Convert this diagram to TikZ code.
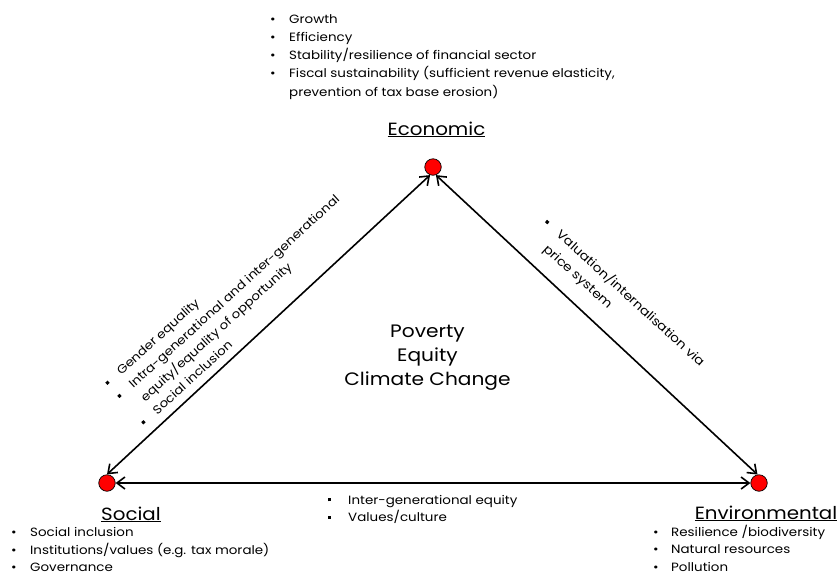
\documentclass[tikz,border=0pt]{standalone}
\usepackage{fontspec}
\setmainfont{Poppins}[FakeStretch=1.12]
\usetikzlibrary{arrows.meta}
\newcommand{\rb}[1]{\makebox[#1][l]{\textbullet}}
\newcommand{\sqb}[1]{\makebox[#1][l]{\raisebox{0.22em}{\rule{0.26em}{0.26em}}}}
\tikzset{
  dot/.style={circle, draw=black, fill=red, minimum size=16.5pt, inner sep=0pt, line width=0.7pt},
  link/.style={line width=1.6pt, {Straight Barb[length=8pt,width=12pt]}-{Straight Barb[length=8pt,width=12pt]}},
  head/.style={font=\fontsize{17.7}{20}\selectfont, inner sep=0pt},
  mid/.style={font=\fontsize{18}{24}\selectfont, inner sep=0pt},
  lst/.style={font=\fontsize{12}{18.3}\selectfont, inner sep=0pt},
  lsts/.style={font=\fontsize{12}{17.5}\selectfont, inner sep=0pt},
  rot/.style={font=\fontsize{12.3}{18}\selectfont, inner sep=0pt},
}
\begin{document}
\begin{tikzpicture}[x=1pt,y=-1pt]
\useasboundingbox (0,0) rectangle (838,574);
% corner dots
\node[dot] (eco) at (433,167) {};
\node[dot] (soc) at (107,483) {};
\node[dot] (env) at (759,483) {};
% connectors
\draw[link] (soc.north) -- (eco.250);
\draw[link] (eco.290) -- (env.100);
\draw[link] (soc.east) -- (env.west);
% headings
\node[head, anchor=base] (ecot) at (436.5,135) {\underline{Economic}};
\node[head, anchor=base] (soct) at (131,520) {\underline{Social}};
\node[head, anchor=base] (envt) at (766,519) {\underline{Environmental}};
% centre
\node[mid, anchor=base] (centre) at (427.5,337) {\begin{tabular}[t]{@{}c@{}}Poverty\\Equity\\Climate Change\end{tabular}};
% top list
\node[lst, anchor=base west] (ecol) at (270,23) {\begin{tabular}[t]{@{}l@{}}
\rb{19pt}Growth\\
\rb{19pt}Efficiency\\
\rb{19pt}Stability/resilience of financial sector\\
\rb{19pt}Fiscal sustainability (sufficient revenue elasticity,\\
\hspace*{19pt}prevention of tax base erosion)\end{tabular}};
% social list
\node[lsts, anchor=base west] (socl) at (11,536.5) {\begin{tabular}[t]{@{}l@{}}
\rb{19pt}Social inclusion\\
\rb{19pt}Institutions/values (e.g. tax morale)\\
\rb{19pt}Governance\end{tabular}};
% environmental list
\node[lsts, anchor=base west] (envl) at (653,536) {\begin{tabular}[t]{@{}l@{}}
\rb{18pt}Resilience /biodiversity\\
\rb{18pt}Natural resources\\
\rb{18pt}Pollution\end{tabular}};
% bottom edge list
\node[lsts, anchor=base west] (botl) at (328,504) {\begin{tabular}[t]{@{}l@{}}
\sqb{20pt}Inter-generational equity\\
\sqb{20pt}Values/culture\end{tabular}};
% left edge list
\node[rot, rotate=42.3, anchor=base west, font=\fontsize{11.9}{17.8}\selectfont] (leftl) at (109,387) {\begin{tabular}[t]{@{}l@{}}
\sqb{16.5pt}Gender equality\\
\sqb{16.5pt}Intra-generational and inter-generational\\
\hspace*{16.5pt}equity/equality of opportunity\\
\sqb{16.5pt}Social inclusion\end{tabular}};
% right edge list
\node[rot, rotate=-42.3, anchor=base west, font=\fontsize{12.3}{19.5}\selectfont] (rightl) at (543,224) {\begin{tabular}[t]{@{}l@{}}
\sqb{17pt}Valuation/internalisation via\\
\hspace*{17pt}price system\end{tabular}};
\end{tikzpicture}
\end{document}
